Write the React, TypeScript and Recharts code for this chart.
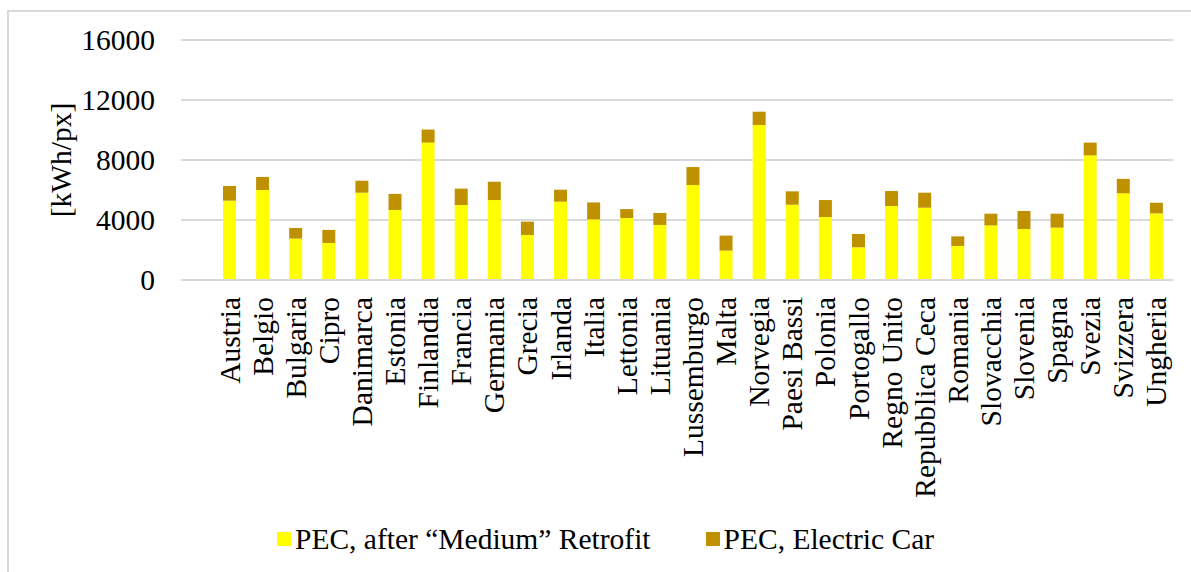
import React from 'react';
import { BarChart, Bar, XAxis, YAxis, CartesianGrid, Legend, Label } from 'recharts';

const countries = [
  'Austria', 'Belgio', 'Bulgaria', 'Cipro', 'Danimarca', 'Estonia', 'Finlandia', 'Francia',
  'Germania', 'Grecia', 'Irlanda', 'Italia', 'Lettonia', 'Lituania', 'Lussemburgo', 'Malta',
  'Norvegia', 'Paesi Bassi', 'Polonia', 'Portogallo', 'Regno Unito', 'Repubblica Ceca',
  'Romania', 'Slovacchia', 'Slovenia', 'Spagna', 'Svezia', 'Svizzera', 'Ungheria',
];

// primary energy consumption after the medium retrofit
const retrofit = [
  5290, 6000, 2760, 2470, 5820, 4670, 9160, 5000, 5330, 3000, 5220, 4040, 4130, 3670, 6330,
  1960, 10330, 5020, 4200, 2180, 4930, 4820, 2270, 3640, 3400, 3490, 8310, 5780, 4440,
];

// extra consumption from the electric car
const electricCar = [
  980, 870, 710, 870, 800, 1070, 870, 1090, 1220, 890, 800, 1130, 600, 800, 1200,
  1000, 890, 890, 1130, 890, 1000, 1000, 640, 780, 1200, 930, 850, 960, 710,
];

const yTicks = [0, 4000, 8000, 12000, 16000];

const seriesNames = ['PEC, after \u201cMedium\u201d Retrofit', 'PEC, Electric Car'];
const colors = ['#FFFF00', '#BF9000'];

const data = countries.map((name, i) => ({ name, retrofit: retrofit[i], car: electricCar[i] }));

const FONT = '"Liberation Serif", "Times New Roman", serif';
const FONT_SIZE = 29.5;

const CountryTick = (props: any) => {
  const { x, y, payload } = props;
  const ty = y + 17;
  return (
    <text
      x={x}
      y={ty}
      transform={`rotate(-90 ${x} ${ty})`}
      textAnchor="end"
      dominantBaseline="central"
      fontFamily={FONT}
      fontSize={FONT_SIZE}
      fill="#000"
    >
      {payload.value}
    </text>
  );
};

const LegendBox = (props: any) => {
  // keep the series order (stack bottom first)
  const items = [...(props.payload || [])].sort(
    (a: any, b: any) => seriesNames.indexOf(a.value) - seriesNames.indexOf(b.value)
  );
  return (
    <div style={{ display: 'flex', alignItems: 'center', fontFamily: FONT, fontSize: FONT_SIZE, lineHeight: '32px', color: '#000', whiteSpace: 'nowrap' }}>
      {items.map((entry: any, i: number) => (
        <div key={entry.value} style={{ display: 'flex', alignItems: 'center', marginRight: i === 0 ? 55 : 0 }}>
          <div style={{ width: 14, height: 14, background: entry.color, marginRight: 4 }} />
          <span>{entry.value}</span>
        </div>
      ))}
    </div>
  );
};

const App: React.FC = () => {
  return (
    <div style={{ position: 'absolute', left: 0, top: 0, width: 1191, height: 572, background: '#fff', overflow: 'hidden' }}>
      {/* chart frame */}
      <div
        style={{
          position: 'absolute',
          left: 7,
          top: 10,
          width: 1200,
          height: 600,
          borderTop: '2px solid #d9d9d9',
          borderLeft: '2px solid #d9d9d9',
        }}
      />
      <div style={{ position: 'absolute', left: 0, top: 0 }}>
        <BarChart
          width={1191}
          height={572}
          data={data}
          margin={{ top: 40, right: 18, left: 40, bottom: 30 }}
          barSize={13}
        >
          <CartesianGrid vertical={false} stroke="#d9d9d9" strokeWidth={2} />
          <XAxis
            dataKey="name"
            interval={0}
            tick={<CountryTick />}
            tickLine={false}
            tickSize={0}
            tickMargin={0}
            axisLine={{ stroke: '#d9d9d9', strokeWidth: 2 }}
            height={230}
            padding={{ left: 32, right: 0 }}
          />
          <YAxis
            width={141}
            domain={[0, 16000]}
            ticks={yTicks}
            interval={0}
            tickLine={false}
            axisLine={false}
            tickSize={0}
            tickMargin={26}
            tick={{ fontFamily: FONT, fontSize: FONT_SIZE, fill: '#000' }}
          >
            <Label
              content={(p: any) => {
                const vb = p.viewBox;
                const cx = vb.x + 21;
                const cy = vb.y + vb.height / 2;
                return (
                  <text
                    x={cx}
                    y={cy}
                    transform={`rotate(-90 ${cx} ${cy})`}
                    textAnchor="middle"
                    dominantBaseline="central"
                    fontFamily={FONT}
                    fontSize={FONT_SIZE}
                    fill="#000"
                  >
                    [kWh/px]
                  </text>
                );
              }}
            />
          </YAxis>
          <Legend
            content={<LegendBox />}
            wrapperStyle={{ position: 'absolute', top: 523, left: 277, width: 'auto', height: 32 }}
          />
          <Bar dataKey="retrofit" name={seriesNames[0]} stackId="pec" fill={colors[0]} isAnimationActive={false} />
          <Bar dataKey="car" name={seriesNames[1]} stackId="pec" fill={colors[1]} isAnimationActive={false} />
        </BarChart>
      </div>
    </div>
  );
};

export default App;
